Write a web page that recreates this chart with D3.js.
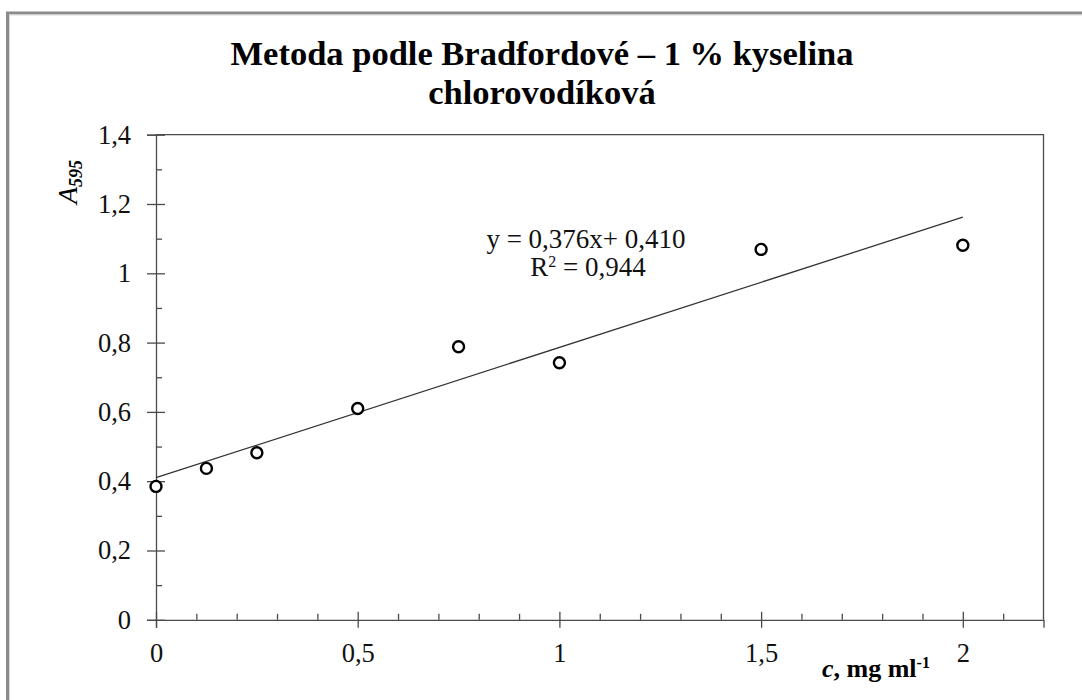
<!DOCTYPE html>
<html>
<head>
<meta charset="utf-8">
<script src="https://cdn.jsdelivr.net/npm/d3@7/dist/d3.min.js"></script>
<style>
  html, body { margin: 0; padding: 0; background: #fff; }
  svg { display: block; font-family: "Liberation Serif", "Times New Roman", serif; }
</style>
</head>
<body>
<svg id="chart" width="1082" height="700"></svg>
<script>
// data
const concentration = [0, 0.125, 0.25, 0.5, 0.75, 1, 1.5, 2];
const absorbance = [0.385, 0.437, 0.482, 0.610, 0.788, 0.742, 1.069, 1.081];
const fitSlope = 0.376;
const fitIntercept = 0.410;
const fitRange = [0, 2];
const xMajorTicks = [0, 0.5, 1, 1.5, 2];
const xMinorTicks = [0.1, 0.2, 0.3, 0.4, 0.6, 0.7, 0.8, 0.9, 1.1, 1.2, 1.3, 1.4, 1.6, 1.7, 1.8, 1.9, 2.1];
const yMajorTicks = [0, 0.2, 0.4, 0.6, 0.8, 1, 1.2, 1.4];
const yMinorTicks = [0.1, 0.3, 0.5, 0.7, 0.9, 1.1, 1.3];
const titleLines = ["Metoda podle Bradfordové – 1 % kyselina", "chlorovodíková"];

const svg = d3.select("#chart");
const axisColor = "#4a4a4a";
const comma = d => String(d).replace(".", ",");

// outer frame (top + left edge)
svg.append("path")
    .attr("d", "M7.5,700 V13 H1082")
    .attr("fill", "none")
    .attr("stroke", "#8a8a8a")
    .attr("stroke-width", 3);
svg.append("path")
    .attr("d", "M9.5,700 V15 H1082")
    .attr("fill", "none")
    .attr("stroke", "#d8d8d8")
    .attr("stroke-width", 1);

// scales
const x = d3.scaleLinear().domain([0, 2.2]).range([156, 1043.5]);
const y = d3.scaleLinear().domain([0, 1.4]).range([619.8, 134.7]);

// plot area border (top and right)
svg.append("path")
    .attr("d", `M${x(0)},${y(1.4)} H${x(2.2)} V${y(0)}`)
    .attr("fill", "none")
    .attr("stroke", axisColor)
    .attr("stroke-width", 1.3);

// y axis
const yAxisG = svg.append("g")
    .attr("transform", `translate(${x(0)},0)`)
    .call(d3.axisLeft(y).tickValues(yMajorTicks).tickSize(9).tickPadding(16).tickFormat(comma));
yAxisG.selectAll(".tick line").attr("x1", 9);
svg.append("g")
    .attr("transform", `translate(${x(0)},0)`)
    .call(d3.axisRight(y).tickValues(yMinorTicks).tickSize(6).tickFormat(""))
    .call(g => g.select(".domain").remove());

// x axis
const xAxisG = svg.append("g")
    .attr("transform", `translate(0,${y(0)})`)
    .call(d3.axisBottom(x).tickValues(xMajorTicks).tickSize(8).tickPadding(15).tickFormat(comma));
xAxisG.selectAll(".tick line").attr("y1", -8);
svg.append("g")
    .attr("transform", `translate(0,${y(0)})`)
    .call(d3.axisTop(x).tickValues(xMinorTicks).tickSize(6).tickFormat(""))
    .call(g => g.select(".domain").remove());

svg.selectAll(".domain, .tick line")
    .attr("stroke", axisColor)
    .attr("stroke-width", 1.3);
svg.selectAll(".tick text")
    .attr("font-family", "Liberation Serif, Times New Roman, serif")
    .attr("font-size", 26.5)
    .attr("fill", "#111");

// regression line
svg.append("line")
    .attr("x1", x(fitRange[0]))
    .attr("y1", y(fitSlope * fitRange[0] + fitIntercept))
    .attr("x2", x(fitRange[1]))
    .attr("y2", y(fitSlope * fitRange[1] + fitIntercept))
    .attr("stroke", "#333")
    .attr("stroke-width", 1.3);

// points
svg.selectAll(".pt")
    .data(concentration.map((c, i) => ({c, a: absorbance[i]})))
    .enter()
    .append("circle")
    .attr("class", "pt")
    .attr("cx", d => x(d.c))
    .attr("cy", d => y(d.a))
    .attr("r", 5.5)
    .attr("fill", "#fff")
    .attr("stroke", "#000")
    .attr("stroke-width", 2.4);

// title
svg.selectAll(".title")
    .data(titleLines)
    .enter()
    .append("text")
    .attr("class", "title")
    .attr("x", 542)
    .attr("y", (d, i) => 65 + i * 39)
    .attr("text-anchor", "middle")
    .attr("font-size", 34.5)
    .attr("font-weight", "bold")
    .text(d => d);

// equation
const eq = svg.append("g").attr("font-size", 27).attr("fill", "#111").attr("text-anchor", "middle");
eq.append("text").attr("x", 586).attr("y", 248)
    .text(`y = ${comma(fitSlope.toFixed(3))}x+ ${comma(fitIntercept.toFixed(3))}`);
const r2 = eq.append("text").attr("x", 588).attr("y", 276);
r2.append("tspan").text("R");
r2.append("tspan").attr("font-size", 16).attr("dy", -9).text("2");
r2.append("tspan").attr("dy", 9).text(" = 0,944");

// y axis title
const yl = svg.append("text")
    .attr("transform", "translate(77,204) rotate(-90)")
    .attr("font-size", 28);
yl.append("tspan").attr("font-style", "italic").text("A");
yl.append("tspan").attr("font-size", 18).attr("font-style", "italic").attr("font-weight", "bold").attr("dy", 5).text("595");

// x axis title
const xl = svg.append("text")
    .attr("x", 822)
    .attr("y", 677)
    .attr("font-size", 26)
    .attr("font-weight", "bold");
xl.append("tspan").attr("font-style", "italic").text("c");
xl.append("tspan").text(", mg ml");
xl.append("tspan").attr("font-size", 16).attr("dy", -9).text("-1");
</script>
</body>
</html>
